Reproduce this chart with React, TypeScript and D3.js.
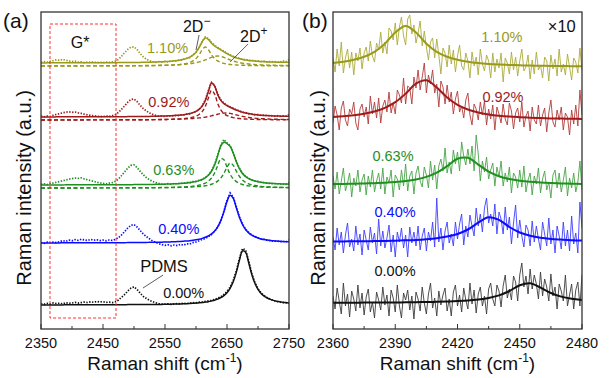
import React from 'react';
import * as d3 from 'd3';

// ---------------- data ----------------
const STRAIN_LABELS = ['0.00%', '0.40%', '0.63%', '0.92%', '1.10%'];
const FIT_COLORS = ['#111111', '#0b0bff', '#1f8f1f', '#9e1b1b', '#99991a'];
const RAW_COLORS_B = ['#3c3c3c', '#3e3eff', '#48a448', '#b43c3c', '#abab3c'];

const A_X_TICKS = [2350, 2450, 2550, 2650, 2750];
const A_X_MINOR = [2400, 2500, 2600, 2700];
const B_X_TICKS = [2360, 2390, 2420, 2450, 2480];
const B_X_MINOR = [2375, 2405, 2435, 2465];

// vertical offsets of the stacked spectra (a.u.)
const A_OFFSETS = [24, 86, 144, 212, 266];
const B_OFFSETS = [26, 87, 144, 209, 262];
const COMPONENT_SHIFT = -3;

// ---- panel (a): 2350..2750 cm-1, step 5 ----
const A_DATA_000 = [1.2,0.8,1.6,1.0,2.0,1.4,1.8,1.1,2.3,1.6,2.0,2.6,1.9,2.4,3.0,2.5,3.2,2.7,3.5,3.0,
 3.4,2.6,2.9,2.4,3.2,5.0,7.8,10.5,14.0,16.8,18.2,15.5,11.8,8.6,6.5,4.6,3.4,2.2,1.4,1.0,
 0.8,1.2,0.6,1.0,1.5,1.1,1.8,1.4,2.0,2.4,2.1,2.8,3.0,3.6,4.2,4.5,5.6,6.8,8.2,10.5,
 13.5,17.8,24.5,34.0,46.5,56.5,55.0,44.0,31.5,22.5,16.2,12.0,9.4,7.2,5.8,4.4,3.6,3.0,2.4,2.2,1.6];
const A_FIT_000 = [0.1,0.1,0.1,0.1,0.1,0.1,0.1,0.1,0.2,0.2,0.2,0.2,0.2,0.2,0.2,0.2,0.2,0.2,0.2,0.2,
 0.2,0.3,0.3,0.3,0.3,0.3,0.3,0.3,0.4,0.4,0.4,0.4,0.4,0.5,0.5,0.5,0.5,0.6,0.6,0.6,
 0.7,0.7,0.85,0.9,1.0,1.1,1.2,1.35,1.5,1.7,1.9,2.2,2.5,2.9,3.3,4.0,4.8,5.9,7.3,9.4,
 12.3,16.7,23.2,32.6,44.6,54,52.7,42.2,30.5,21.7,15.6,11.6,8.9,7.0,5.6,4.6,3.8,3.3,2.8,2.4,2.1];

const A_DATA_040 = [0.5,-0.3,0.8,0.2,1.0,0.4,1.3,2.4,1.6,2.8,2.2,3.4,2.6,3.8,3.0,2.5,3.6,2.8,3.2,2.4,
 2.9,2.2,3.0,2.6,3.6,5.4,8.2,11.5,15.0,17.6,18.4,16.0,12.4,9.0,6.4,4.2,2.0,0.6,-0.8,-1.6,
 -2.4,-1.8,-2.8,-2.0,-2.6,-1.4,-2.2,-0.8,-1.0,0.4,1.0,2.2,3.6,4.4,6.4,8.4,11.6,15.8,22.6,31.8,
 42.5,50.0,46.0,36.5,26.2,19.0,13.6,10.5,8.0,6.4,5.2,4.0,3.6,2.6,2.4,1.8,2.0,1.4,1.6,1.0,3.0];
const A_FIT_040 = [0.1,0.1,0.1,0.1,0.1,0.1,0.1,0.2,0.2,0.2,0.2,0.2,0.2,0.2,0.2,0.2,0.2,0.2,0.2,0.2,
 0.25,0.3,0.3,0.3,0.3,0.3,0.35,0.35,0.4,0.4,0.45,0.5,0.5,0.55,0.6,0.65,0.7,0.75,0.8,0.85,
 0.94,1.0,1.14,1.3,1.42,1.6,1.8,2.05,2.35,2.74,3.2,3.8,4.6,5.7,7.1,9.1,12.0,16.2,22.4,31.2,
 41.4,47.8,44.8,35.3,25.7,18.5,13.5,10.1,7.8,6.2,5.0,4.1,3.4,2.9,2.5,2.2,1.9,1.7,1.5,1.33,1.2];

const A_DATA_063 = [0.6,1.2,0.4,1.5,2.0,2.8,3.5,4.2,5.0,5.8,6.4,7.0,6.6,7.2,6.0,5.2,4.4,3.6,2.8,2.0,
 1.6,1.2,1.8,2.4,3.6,6.0,9.5,13.2,17.0,19.6,20.2,17.4,13.6,10.2,7.4,5.2,3.6,2.4,1.6,1.0,
 0.8,1.4,0.6,1.6,1.2,2.0,1.6,2.6,2.2,3.4,3.6,4.8,5.4,7.6,10.2,14.2,20.6,29.8,39.8,45.5,
 42.0,39.4,32.4,23.8,16.8,11.8,8.8,6.6,5.2,4.0,3.6,2.6,2.4,1.8,1.6,1.2,1.4,0.8,1.2,0.6,2.4];
const A_FIT_063 = [0.1,0.1,0.1,0.1,0.1,0.1,0.1,0.1,0.15,0.15,0.15,0.15,0.15,0.15,0.2,0.2,0.2,0.2,0.2,0.2,
 0.22,0.24,0.26,0.28,0.3,0.3,0.32,0.34,0.36,0.37,0.38,0.42,0.45,0.48,0.52,0.56,0.6,0.65,0.72,0.79,
 0.87,0.97,1.08,1.21,1.37,1.56,1.79,2.08,2.45,2.93,3.54,4.38,5.55,7.23,9.78,13.74,20.0,29.3,39.1,42.8,
 41.4,38.7,32.0,23.3,16.3,11.5,8.4,6.35,4.95,3.96,3.23,2.69,2.28,1.95,1.68,1.47,1.30,1.15,1.02,0.92,0.84];
const A_C1_063 = [0.05,0.05,0.05,0.05,0.05,0.06,0.06,0.06,0.06,0.07,0.07,0.07,0.08,0.08,0.08,0.09,0.09,0.1,0.1,0.11,
 0.12,0.12,0.13,0.14,0.15,0.16,0.17,0.18,0.19,0.2,0.21,0.23,0.25,0.27,0.29,0.31,0.34,0.37,0.41,0.45,
 0.5,0.56,0.63,0.71,0.81,0.93,1.08,1.27,1.52,1.84,2.26,2.86,3.7,4.95,6.9,10.0,15.0,22.4,29.2,28.2,
 20.8,13.8,9.2,6.4,4.66,3.5,2.72,2.17,1.76,1.46,1.23,1.05,0.91,0.79,0.69,0.61,0.55,0.49,0.44,0.4,0.37];
const A_C2_063 = [0.05,0.05,0.05,0.05,0.05,0.05,0.06,0.06,0.06,0.06,0.07,0.07,0.07,0.07,0.08,0.08,0.08,0.09,0.09,0.1,
 0.1,0.11,0.11,0.12,0.12,0.13,0.14,0.15,0.16,0.16,0.17,0.18,0.2,0.21,0.22,0.24,0.26,0.28,0.31,0.34,
 0.37,0.41,0.45,0.5,0.56,0.63,0.71,0.81,0.93,1.09,1.28,1.52,1.85,2.28,2.88,3.74,5.0,6.9,9.9,14.6,
 20.6,24.9,22.8,16.9,11.6,8.0,5.67,4.18,3.19,2.5,2.0,1.64,1.37,1.16,0.99,0.86,0.75,0.66,0.58,0.52,0.47];

const A_DATA_092 = [0.8,0.2,1.0,0.6,1.8,2.6,3.4,4.2,4.8,5.2,4.6,5.0,4.2,3.6,2.8,2.2,1.6,1.2,0.8,0.6,
 0.4,1.0,0.6,1.2,2.4,4.6,7.8,11.2,14.8,17.4,18.0,15.4,11.6,8.4,6.0,4.0,2.6,1.6,1.0,0.8,
 0.6,1.4,0.8,1.6,1.2,2.2,2.0,3.0,3.2,4.6,5.4,7.8,11.2,17.2,26.4,34.6,31.8,23.0,17.2,13.8,
 11.8,10.2,8.8,7.0,6.2,4.8,4.4,3.2,3.0,2.2,2.4,1.6,1.8,1.2,1.6,0.8,1.4,0.6,1.2,0.8,2.6];
const A_FIT_092 = [0.1,0.1,0.11,0.12,0.12,0.13,0.13,0.13,0.15,0.15,0.15,0.16,0.17,0.18,0.18,0.2,0.2,0.21,0.22,0.23,
 0.24,0.25,0.27,0.28,0.3,0.32,0.34,0.36,0.38,0.4,0.43,0.46,0.5,0.54,0.58,0.62,0.68,0.75,0.84,0.93,
 1.04,1.16,1.31,1.51,1.73,2.01,2.36,2.85,3.47,4.36,5.65,7.63,10.9,16.5,25.6,33.9,30.9,22.4,16.6,13.4,
 11.4,9.78,8.3,6.96,5.8,4.83,4.02,3.39,2.86,2.45,2.11,1.83,1.61,1.41,1.26,1.12,1.01,0.91,0.82,0.75,0.68];
const A_C1_092 = [0.04,0.04,0.04,0.05,0.05,0.05,0.05,0.05,0.06,0.06,0.06,0.06,0.07,0.07,0.07,0.08,0.08,0.08,0.09,0.09,
 0.1,0.1,0.11,0.11,0.12,0.13,0.14,0.15,0.16,0.17,0.19,0.2,0.22,0.24,0.26,0.28,0.31,0.35,0.4,0.45,
 0.51,0.58,0.67,0.79,0.93,1.11,1.35,1.69,2.15,2.83,3.87,5.55,8.43,13.6,22.1,29.7,25.9,16.6,10.1,6.5,
 4.44,3.19,2.39,1.85,1.47,1.2,0.99,0.84,0.71,0.62,0.54,0.47,0.42,0.37,0.34,0.3,0.28,0.25,0.23,0.21,0.19];
const A_C2_092 = [0.06,0.06,0.07,0.07,0.07,0.08,0.08,0.08,0.09,0.09,0.09,0.1,0.1,0.11,0.11,0.12,0.12,0.13,0.13,0.14,
 0.14,0.15,0.16,0.17,0.18,0.19,0.2,0.21,0.22,0.23,0.24,0.26,0.28,0.3,0.32,0.34,0.37,0.4,0.44,0.48,
 0.53,0.58,0.64,0.72,0.8,0.9,1.01,1.16,1.32,1.53,1.78,2.08,2.46,2.93,3.5,4.18,4.95,5.76,6.47,6.92,
 6.96,6.59,5.91,5.11,4.33,3.63,3.03,2.55,2.15,1.83,1.57,1.36,1.19,1.04,0.92,0.82,0.73,0.66,0.59,0.54,0.49];

const A_DATA_110 = [0.6,1.4,0.8,1.8,2.4,3.2,2.6,3.6,2.8,2.2,1.4,1.8,0.8,1.2,0.4,1.0,0.6,1.2,0.2,0.8,
 0.4,1.0,0.6,1.2,1.8,3.6,6.8,10.4,13.6,15.8,16.2,13.4,9.4,6.2,3.8,2.2,1.2,0.6,1.4,0.8,
 1.6,1.0,2.2,1.6,2.8,2.4,3.6,4.8,5.4,8.2,10.6,15.8,21.8,26.2,24.4,20.6,17.8,15.4,13.6,11.8,
 9.8,8.2,6.6,5.4,4.8,3.6,3.4,2.6,2.8,1.8,2.2,1.4,1.8,0.8,1.6,1.0,1.4,0.6,2.2,1.2,3.4];
const A_FIT_110 = [0.12,0.12,0.13,0.14,0.15,0.15,0.15,0.16,0.17,0.17,0.18,0.19,0.19,0.21,0.22,0.23,0.24,0.25,0.27,0.27,
 0.28,0.3,0.32,0.34,0.36,0.38,0.41,0.43,0.46,0.49,0.53,0.57,0.62,0.67,0.74,0.81,0.89,0.98,1.15,1.28,
 1.43,1.62,1.86,2.16,2.55,3.05,3.71,4.62,5.92,7.84,10.8,15.3,21.2,25.1,23.55,19.8,17.0,15.0,13.2,11.2,
 9.35,7.67,6.26,5.13,4.24,3.54,2.99,2.54,2.18,1.9,1.66,1.46,1.3,1.16,1.04,0.94,0.85,0.78,0.71,0.65,0.6];
const A_C1_110 = [0.04,0.04,0.04,0.05,0.05,0.05,0.05,0.06,0.06,0.06,0.07,0.07,0.07,0.08,0.08,0.09,0.09,0.09,0.1,0.1,
 0.1,0.11,0.12,0.13,0.14,0.15,0.16,0.17,0.18,0.19,0.2,0.22,0.24,0.26,0.29,0.32,0.36,0.4,0.47,0.54,
 0.63,0.73,0.86,1.03,1.26,1.57,2.0,2.62,3.56,5.03,7.41,11.2,16.2,19.0,16.2,11.2,7.41,5.03,3.56,2.62,
 2.0,1.57,1.26,1.03,0.86,0.73,0.63,0.54,0.47,0.42,0.37,0.33,0.3,0.27,0.24,0.22,0.2,0.185,0.17,0.16,0.15];
const A_C2_110 = [0.08,0.08,0.09,0.09,0.1,0.1,0.1,0.1,0.11,0.11,0.11,0.12,0.12,0.13,0.14,0.14,0.15,0.16,0.17,0.17,
 0.18,0.19,0.2,0.21,0.22,0.23,0.25,0.26,0.28,0.3,0.33,0.35,0.38,0.41,0.45,0.49,0.53,0.58,0.65,0.72,
 0.8,0.89,1.0,1.13,1.29,1.48,1.71,2.0,2.36,2.81,3.38,4.1,5.0,6.1,7.35,8.62,9.62,10.0,9.62,8.62,
 7.35,6.1,5.0,4.1,3.38,2.81,2.36,2.0,1.71,1.48,1.29,1.13,1.0,0.89,0.8,0.72,0.65,0.59,0.54,0.49,0.45];

// ---- panel (b): 2360..2480 cm-1, step 1 (x10 magnified) ----
const B_DATA_000 = [7,-6,15,2,-11,20,-3,9,-14,12,4,-8,18,-5,10,-12,6,14,-9,1,
 -15,11,3,-7,16,-2,8,-13,13,5,-9,18,-3,-15,10,3,13,-7,7,-16,
 11,4,-8,16,0,-11,9,20,-5,5,-13,12,-2,8,15,-8,4,-13,11,18,
 -3,8,-9,15,3,-6,20,-1,13,-10,9,16,-3,7,-11,14,20,4,-3,18,
 12,-4,17,28,5,14,3,27,21,2,28,40,16,27,9,34,14,28,19,4,
 31,7,24,16,2,29,7,16,-6,19,12,2,28,-3,8,19,-6,13,21,-3,28];
const B_DATA_040 = [5,-8,14,-3,10,-11,7,19,-5,3,-9,16,-3,8,-13,12,2,-8,15,-1,
 9,-12,23,-4,11,-6,4,17,-10,7,-15,10,0,14,-6,7,-15,15,-1,10,
 -4,16,-8,6,14,-9,10,1,20,-5,44,0,14,-8,11,20,-1,8,-4,20,
 3,18,28,-3,16,5,27,16,6,34,16,28,10,34,44,19,28,16,38,8,
 30,23,8,35,12,25,-2,19,37,4,22,6,-5,17,12,-4,21,0,16,3,
 -8,20,8,-4,24,-2,12,-11,16,6,-7,20,-4,12,-9,26,-2,9,-11,40,14];
const B_DATA_063 = [9,-4,13,-9,4,17,-6,2,12,-12,7,-1,15,-7,5,11,-10,9,-2,15,
 -7,4,12,-4,17,-9,8,2,15,-12,10,6,-5,15,-1,21,-6,9,14,-9,
 12,19,4,-2,18,10,-3,24,5,20,-4,19,26,14,37,12,23,11,35,21,
 33,14,43,29,20,36,21,39,14,50,31,4,24,13,28,6,15,22,-1,18,
 8,24,-1,12,3,18,-8,12,8,-3,15,-2,19,-7,5,12,-10,9,1,17,
 -8,6,14,-5,3,-13,10,15,-3,12,-7,5,18,-11,7,-3,12,-7,3,24,-5];
const B_DATA_092 = [-3,14,5,-10,12,19,0,-6,11,6,18,-3,-10,11,16,3,13,-4,24,6,
 18,2,22,-3,14,20,8,28,7,17,6,30,25,17,42,16,34,32,16,43,
 32,50,30,43,57,27,45,36,50,27,36,13,39,33,16,35,18,28,6,21,
 29,8,14,2,20,27,5,-5,16,11,0,18,5,19,-5,11,1,15,-10,13,
 6,-3,16,1,-5,17,9,-9,7,12,-2,18,-7,4,9,-11,13,0,-4,15,
 -6,5,12,-12,7,20,-2,-7,10,0,13,-10,7,3,-15,10,-4,15,-6,30,5];
const B_DATA_110 = [9,-5,18,1,25,-6,9,18,-1,15,-8,14,6,19,-2,14,20,6,26,11,
 5,24,17,35,14,25,13,39,36,27,44,22,40,50,31,22,48,52,33,42,
 24,34,46,21,36,20,7,25,29,9,28,12,-7,19,14,0,22,3,17,-5,
 11,22,1,-3,14,6,-11,15,1,10,-8,18,3,-4,12,6,-11,14,-5,8,
 -1,14,-15,9,4,-7,15,-3,10,-9,6,18,-4,0,12,-12,7,-7,15,-3,
 2,-11,10,6,-14,12,-2,8,-9,18,-5,3,-8,13,0,-13,9,5,-6,19,-4];

// fits, 2360..2480 step 5
const B_FIT_000 = [0.27,0.3,0.34,0.38,0.43,0.5,0.57,0.67,0.8,0.96,1.18,1.47,1.9,2.5,3.5,5.0,7.6,12.0,17.7,19.8,15.4,10.0,6.4,4.3,3.0];
const B_FIT_040 = [0.5,0.6,0.7,0.8,0.9,1.1,1.35,1.7,2.1,2.8,3.8,5.4,8.0,12.5,19.3,24.8,22.1,15.0,9.5,6.3,4.3,3.1,2.4,1.8,1.5];
const B_FIT_063 = [0.9,1.06,1.26,1.52,1.87,2.35,3.0,4.0,5.6,8.1,12.3,18.9,26.2,27.2,20.4,13.4,8.8,6.0,4.3,3.2,2.5,2.0,1.6,1.3,1.1];
const B_FIT_092 = [3.0,3.7,4.8,6.3,8.5,12.1,17.8,26.3,36.3,39.7,32.5,22.5,15.2,10.5,7.5,5.6,4.3,3.4,2.8,2.3,1.9,1.6,1.4,1.2,1.05];
const B_FIT_110 = [4.0,5.3,7.2,10.2,15.2,23.3,34.5,41,34.5,23.3,15.2,10.2,7.2,5.3,4.0,3.1,2.5,2.06,1.72,1.45,1.24,1.08,0.95,0.84,0.75];

const A_SERIES = [
  { data: A_DATA_000, fit: A_FIT_000, comps: [] as number[][] },
  { data: A_DATA_040, fit: A_FIT_040, comps: [] as number[][] },
  { data: A_DATA_063, fit: A_FIT_063, comps: [A_C1_063, A_C2_063] },
  { data: A_DATA_092, fit: A_FIT_092, comps: [A_C1_092, A_C2_092] },
  { data: A_DATA_110, fit: A_FIT_110, comps: [A_C1_110, A_C2_110] },
];
const B_SERIES = [
  { data: B_DATA_000, fit: B_FIT_000 },
  { data: B_DATA_040, fit: B_FIT_040 },
  { data: B_DATA_063, fit: B_FIT_063 },
  { data: B_DATA_092, fit: B_FIT_092 },
  { data: B_DATA_110, fit: B_FIT_110 },
];

// label anchors in data units [x (cm-1), intensity]
const A_LABEL_AT = [[2547, 31], [2539, 95], [2531, 154], [2523, 222], [2521, 276]];
const B_LABEL_AT = [[2380, 53], [2380, 112], [2379, 168], [2432, 227], [2431.5, 287]];

// ---------------- layout ----------------
const W = 615, H = 378;
const TOP = 12, BOTTOM = 329;
const FONT = '"Liberation Sans", Arial, Helvetica, sans-serif';

function path(xs: number[], vals: number[], xs_: any, ys_: any, off: number, curve: any) {
  const n = Math.min(xs.length, vals.length);
  const pts: [number, number][] = [];
  for (let i = 0; i < n; i++) pts.push([xs_(xs[i]), ys_(vals[i] + off)]);
  return d3.line().curve(curve)(pts) || '';
}

export default function App() {
  const xA = d3.scaleLinear().domain([2350, 2750]).range([41, 289]);
  const xB = d3.scaleLinear().domain([2360, 2480]).range([333, 582]);
  const y = d3.scaleLinear().domain([0, 317]).range([BOTTOM, TOP]);
  const gridA = d3.range(2350, 2751, 5);
  const gridB = d3.range(2360, 2481, 1);
  const gridBFit = d3.range(2360, 2481, 5);
  const smooth = d3.curveCatmullRom.alpha(0.5);

  const frame = (x0: number, x1: number) => (
    <rect x={x0} y={TOP} width={x1 - x0} height={BOTTOM - TOP} fill="none" stroke="#333" strokeWidth={1.3} />
  );

  const axisTicks = (sc: any, major: number[], minor: number[], key: string) => (
    <g key={key}>
      {major.map((t) => (
        <g key={'M' + t}>
          <line x1={sc(t)} x2={sc(t)} y1={BOTTOM} y2={BOTTOM - 5} stroke="#333" strokeWidth={1} />
          <text x={sc(t)} y={348} textAnchor="middle" fontSize={14.5} fontFamily={FONT} fill="#111">{t}</text>
        </g>
      ))}
      {minor.map((t) => (
        <line key={'m' + t} x1={sc(t)} x2={sc(t)} y1={BOTTOM} y2={BOTTOM - 3} stroke="#333" strokeWidth={1} />
      ))}
    </g>
  );

  return (
    <svg width={W} height={H} style={{ position: 'absolute', left: 0, top: 0, background: '#fff' }}>
      <defs>
        <clipPath id="clipA"><rect x={41} y={TOP} width={248} height={BOTTOM - TOP} /></clipPath>
        <clipPath id="clipB"><rect x={333} y={TOP} width={249} height={BOTTOM - TOP} /></clipPath>
      </defs>

      {/* ---------- panel (a) ---------- */}
      <g clipPath="url(#clipA)">
        {A_SERIES.map((s, k) => (
          <g key={'a' + k}>
            {s.comps.map((c, j) => (
              <path key={j} d={path(gridA, c, xA, y, A_OFFSETS[k] + COMPONENT_SHIFT, smooth)} fill="none"
                stroke={FIT_COLORS[k]} strokeWidth={1.4} strokeDasharray="4 2.5" />
            ))}
            <path d={path(gridA, s.data, xA, y, A_OFFSETS[k], d3.curveLinear)} fill="none"
              stroke={FIT_COLORS[k]} strokeWidth={1.7} strokeDasharray="1.4 1.5" />
            <path d={path(gridA, s.fit, xA, y, A_OFFSETS[k], smooth)} fill="none"
              stroke={FIT_COLORS[k]} strokeWidth={1.5} />
          </g>
        ))}
      </g>
      {/* G* window */}
      <rect x={xA(2364.5)} y={y(305)} width={xA(2471) - xA(2364.5)} height={y(11) - y(305)}
        fill="none" stroke="#ff3030" strokeWidth={1} strokeDasharray="3 2" />
      {frame(41, 289)}
      {axisTicks(xA, A_X_TICKS, A_X_MINOR, 'ta')}
      {STRAIN_LABELS.map((l, k) => (
        <text key={'la' + k} x={xA(A_LABEL_AT[k][0])} y={y(A_LABEL_AT[k][1])} fontSize={14.5}
          fontFamily={FONT} fill={FIT_COLORS[k]}>{l}</text>
      ))}
      <text x={xA(2413)} y={y(281)} textAnchor="middle" fontSize={16} fontFamily={FONT} fill="#111">G*</text>
      <text x={xA(2579)} y={y(297)} fontSize={16} fontFamily={FONT} fill="#111">2D<tspan dy={-7} fontSize={12}>−</tspan></text>
      <text x={xA(2671)} y={y(287)} fontSize={16} fontFamily={FONT} fill="#111">2D<tspan dy={-7} fontSize={12}>+</tspan></text>
      <line x1={xA(2605)} y1={y(294)} x2={xA(2600)} y2={y(279)} stroke="#333" strokeWidth={0.8} />
      <line x1={xA(2684)} y1={y(285)} x2={xA(2655)} y2={y(267)} stroke="#333" strokeWidth={0.8} />
      <text x={xA(2510)} y={y(57)} fontSize={16.5} fontFamily={FONT} fill="#111">PDMS</text>
      <line x1={xA(2514.5)} y1={y(41)} x2={xA(2547)} y2={y(54)} stroke="#333" strokeWidth={0.8} />

      {/* ---------- panel (b) ---------- */}
      <g clipPath="url(#clipB)">
        {B_SERIES.map((s, k) => (
          <g key={'b' + k}>
            <path d={path(gridB, s.data, xB, y, B_OFFSETS[k], d3.curveLinear)} fill="none"
              stroke={RAW_COLORS_B[k]} strokeWidth={0.9} />
            <path d={path(gridBFit, s.fit, xB, y, B_OFFSETS[k], smooth)} fill="none"
              stroke={FIT_COLORS[k]} strokeWidth={2} />
          </g>
        ))}
      </g>
      {frame(333, 582)}
      {axisTicks(xB, B_X_TICKS, B_X_MINOR, 'tb')}
      {STRAIN_LABELS.map((l, k) => (
        <text key={'lb' + k} x={xB(B_LABEL_AT[k][0])} y={y(B_LABEL_AT[k][1])} fontSize={14.5}
          fontFamily={FONT} fill={FIT_COLORS[k]}>{l}</text>
      ))}
      <text x={xB(2477)} y={y(297)} textAnchor="end" fontSize={16.5} fontFamily={FONT} fill="#111">×10</text>

      {/* ---------- titles ---------- */}
      <text x={3} y={28} fontSize={21} fontFamily={FONT} fill="#111">(a)</text>
      <text x={302} y={28} fontSize={21} fontFamily={FONT} fill="#111">(b)</text>
      {[165, 457.5].map((cx, i) => (
        <text key={'xt' + i} x={cx} y={370} textAnchor="middle" fontSize={19} fontFamily={FONT} fill="#111">
          Raman shift (cm<tspan dy={-8} fontSize={12}>-1</tspan><tspan dy={8}>)</tspan>
        </text>
      ))}
      {[31, 325].map((bx, i) => (
        <text key={'yt' + i} transform={`translate(${bx},188) rotate(-90)`} textAnchor="middle" fontSize={20}
          fontFamily={FONT} fill="#111">Raman intensity (a.u.)</text>
      ))}
    </svg>
  );
}
